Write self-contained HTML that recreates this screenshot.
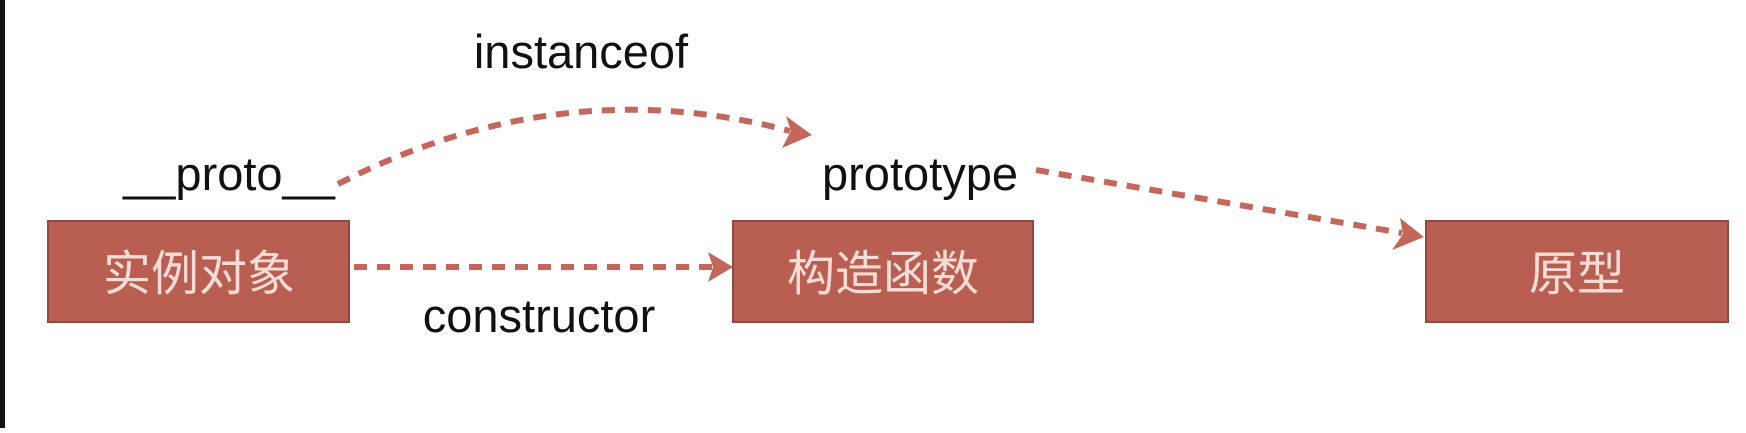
<!DOCTYPE html>
<html><head><meta charset="utf-8"><style>
html,body{margin:0;padding:0;background:#fff;}
body{width:1746px;height:428px;overflow:hidden;position:relative;}
</style></head><body>
<svg width="1746" height="428" viewBox="0 0 1746 428" xmlns="http://www.w3.org/2000/svg">
<rect x="0" y="0" width="5" height="428" fill="#111"/>
<g fill="none" stroke="#c4665a" stroke-width="6" stroke-dasharray="13 10">
<path d="M338 184 Q 560 70 790 131"/>
<path d="M1036 170 L 1402 233"/>
<path d="M354 267 L 712 267"/>
</g>
<g fill="#c4665a">
<polygon points="812,135 786,116 791,131 782,148"/>
<polygon points="1424,237 1400,218 1403,234 1392,250"/>
<polygon points="733,267 708,252 713,267 708,282"/>
</g>
<g fill="#b95f52" stroke="#8e4a40" stroke-width="2">
<rect x="48" y="221" width="301" height="101"/>
<rect x="733" y="221" width="300" height="101"/>
<rect x="1426" y="221" width="302" height="101"/>
</g>
<g font-family="'Liberation Sans','Noto Sans CJK SC',sans-serif" font-size="48" fill="#f6dcd6" text-anchor="middle">
<text x="199" y="290">实例对象</text>
<text x="883" y="290">构造函数</text>
<text x="1577" y="290">原型</text>
</g>
<g font-family="'Liberation Sans',sans-serif" font-size="47" fill="#111" text-anchor="middle">
<text x="581" y="68">instanceof</text>
<text x="229" y="190">__proto__</text>
<text x="920" y="190">prototype</text>
<text x="539" y="332">constructor</text>
</g>
</svg>
</body></html>
